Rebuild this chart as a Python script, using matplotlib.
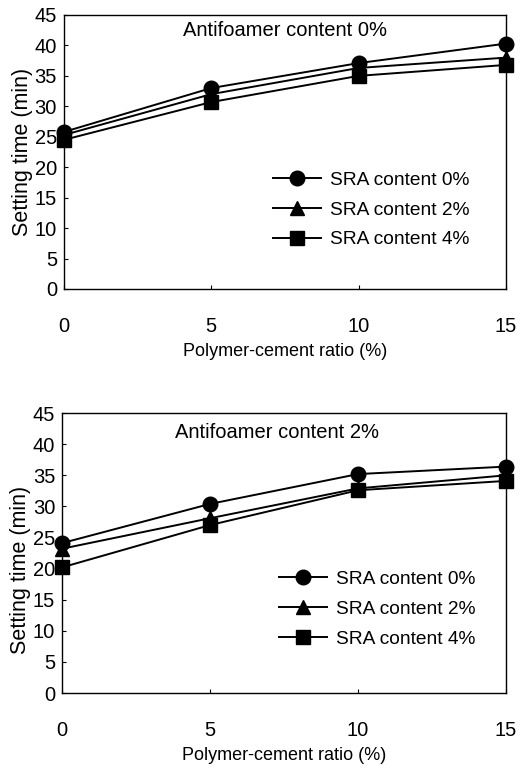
import numpy as np
import matplotlib
matplotlib.use('Agg')
import matplotlib.pyplot as plt

plt.rcParams['font.family'] = ['Liberation Sans', 'DejaVu Sans']

# Polymer-cement ratio (%)
ratio = [0, 5, 10, 15]

# Antifoamer content 0%
af0_sra0 = [25.8, 33.0, 37.1, 40.3]
af0_sra2 = [25.3, 32.0, 36.3, 38.0]
af0_sra4 = [24.5, 30.7, 35.0, 36.8]

# Antifoamer content 2%
af2_sra0 = [24.1, 30.4, 35.2, 36.4]
af2_sra2 = [23.2, 28.1, 32.9, 35.0]
af2_sra4 = [20.2, 27.0, 32.6, 34.1]

series_labels = ['SRA content 0%', 'SRA content 2%', 'SRA content 4%']
markers = ['o', '^', 's']
panel_titles = ['Antifoamer content 0%', 'Antifoamer content 2%']

fig = plt.figure(figsize=(5.26, 7.69), dpi=100)
ax1 = fig.add_axes([0.1217, 0.6242, 0.840, 0.3563])
ax2 = fig.add_axes([0.118, 0.0988, 0.844, 0.364])

panels = [
    (ax1, [af0_sra0, af0_sra2, af0_sra4], panel_titles[0], (0.5, 0.945), (0.473, 0.289), 0.5),
    (ax2, [af2_sra0, af2_sra2, af2_sra4], panel_titles[1], (0.484, 0.93), (0.489, 0.30), 0.44),
]

for ax, data, title, tpos, lpos, ylab_y in panels:
    for vals, m, lab in zip(data, markers, series_labels):
        ms = 10.5 if m != 's' else 9.5
        ax.plot(ratio, vals, color='black', marker=m, markersize=ms,
                linewidth=1.4, label=lab, clip_on=False, zorder=3)
    ax.set_xlim(0, 15)
    ax.set_ylim(0, 45)
    ax.set_xticks([0, 5, 10, 15])
    ax.set_yticks(np.arange(0, 46, 5))
    ax.tick_params(direction='in', length=3, width=0.8, labelsize=14.5)
    ax.tick_params(axis='x', pad=20)
    ax.tick_params(axis='y', pad=5)
    for s in ax.spines.values():
        s.set_linewidth(1.0)
    ax.set_ylabel('Setting time (min)', fontsize=15.5, labelpad=1)
    ax.yaxis.label.set_y(ylab_y)
    ax.set_xlabel('Polymer-cement ratio (%)', fontsize=13, labelpad=5)
    ax.text(tpos[0], tpos[1], title, transform=ax.transAxes,
            ha='center', va='center', fontsize=14.5)
    ax.legend(loc='center left', bbox_to_anchor=lpos, frameon=False,
              fontsize=13.8, handlelength=2.5, handletextpad=0.45,
              labelspacing=0.65, borderpad=0, borderaxespad=0)

fig.savefig('out.png', dpi=100)
